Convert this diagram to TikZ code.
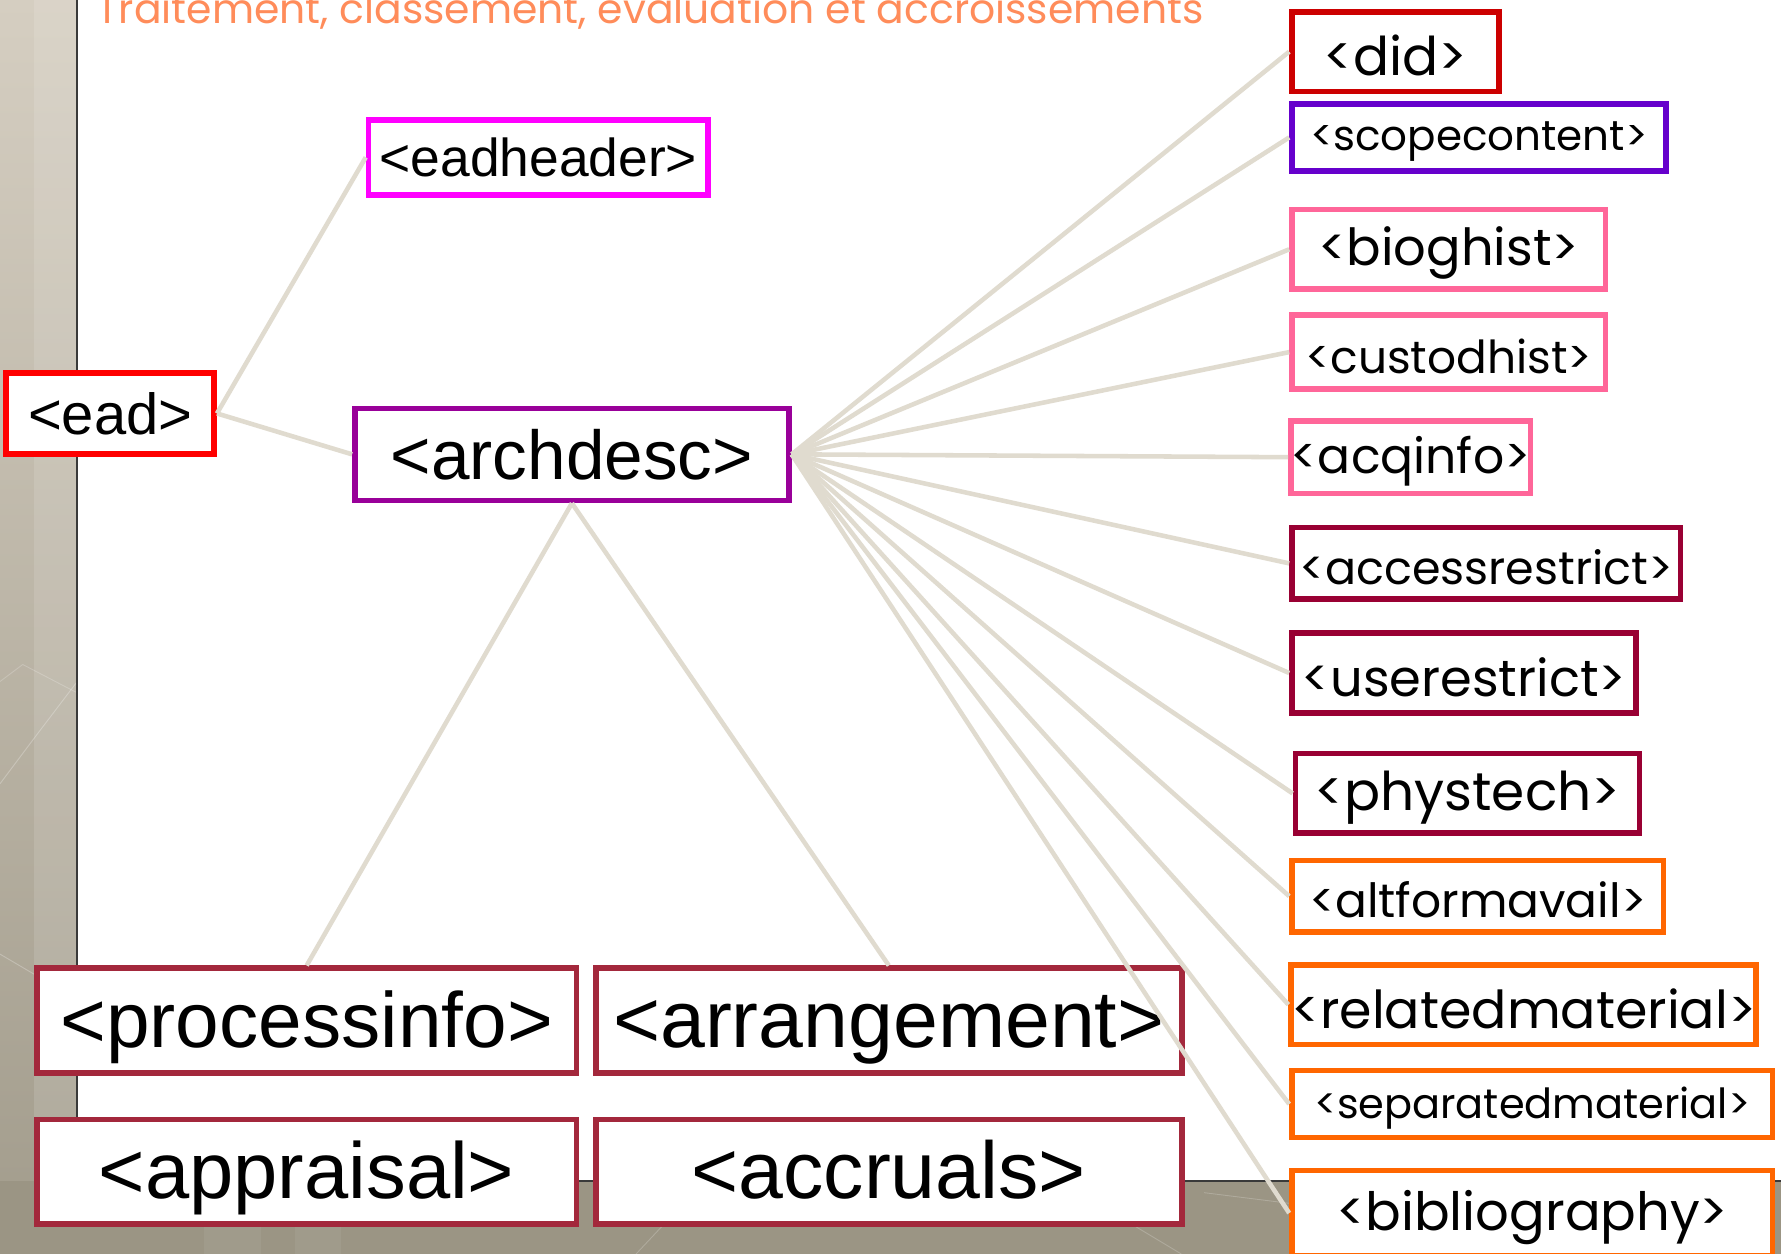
\documentclass[tikz,border=0pt]{standalone}
\usepackage{fontspec}
\setmainfont{Liberation Sans}
\newfontfamily\gothic{Poppins}
\newcommand\dropby[1]{\raisebox{-3.5pt}[\height][\depth]{#1}}
\definecolor{cRed}{HTML}{FF0000}
\definecolor{cMagenta}{HTML}{FF00FF}
\definecolor{cPurple}{HTML}{990099}
\definecolor{cWine}{HTML}{A3283C}
\definecolor{cDid}{HTML}{CC0000}
\definecolor{cViolet}{HTML}{6600CC}
\definecolor{cPink}{HTML}{FF6699}
\definecolor{cMaroon}{HTML}{990033}
\definecolor{cOrange}{HTML}{FF6600}
\definecolor{linkc}{HTML}{E0DBCF}
\definecolor{titlec}{HTML}{FF8C5A}
\definecolor{stripTop}{HTML}{D5CEC1}
\definecolor{stripBot}{HTML}{A29C8C}
\definecolor{bandc}{HTML}{9B9584}
\definecolor{edgec}{HTML}{3A3A3A}
\tikzset{
  tagbox/.style={draw=#1, line width=5pt, fill=white, inner sep=0pt, align=center, text=black},
  link/.style={draw=linkc, line width=4pt},
  fs/.style={font=\fontsize{#1}{#1}\selectfont},
  gfs/.style={font=\gothic\fontsize{#1}{#1}\selectfont},
  lowtext/.style={text height=60pt, text depth=12pt},
}
\begin{document}
\begin{tikzpicture}[x=1pt,y=-1pt]
\useasboundingbox (0,0) rectangle (1568,1104);
\clip (0,0) rectangle (1568,1104);
% background
\fill[white] (0,0) rectangle (1568,1104);
\shade[top color=stripTop, bottom color=stripBot] (0,0) rectangle (68,1104);
\fill[white, opacity=0.12] (30,0) rectangle (68,1104);
\fill[bandc] (0,1040) rectangle (1568,1104);
\fill[white, opacity=0.06] (180,1040) rectangle (230,1104);
\fill[white, opacity=0.06] (260,1040) rectangle (300,1104);
\draw[white, opacity=0.25, line width=0.8pt] (0,690) -- (30,650) -- (68,600);
\draw[white, opacity=0.25, line width=0.8pt] (0,840) -- (68,880);
\draw[white, opacity=0.2, line width=0.8pt] (0,600) -- (20,585) -- (68,610);
\draw[white, opacity=0.2, line width=0.8pt] (1060,1050) -- (1220,1070);
\draw[white, opacity=0.2, line width=0.8pt] (560,1104) -- (620,1040);
\draw[white, opacity=0.2, line width=0.8pt] (1000,1080) -- (1040,1104);
\draw[edgec, line width=1.5pt] (68,0) -- (68,1040) -- (1568,1040);
% title
\node[anchor=base west, inner sep=0pt, text=titlec, gfs=36] (title) at (85,21) {Traitement, classement, évaluation et accroissements};
% left nodes
\node[tagbox=cRed, minimum width=183pt, minimum height=71pt, fs=51] (ead) at (97,364) {<ead>};
\node[tagbox=cMagenta, minimum width=299pt, minimum height=66pt, fs=47] (eadheader) at (474,138.5) {<eadheader>};
\node[tagbox=cPurple, minimum width=382pt, minimum height=81pt, fs=61] (archdesc) at (503.5,400) {<archdesc>};
\node[tagbox=cWine, minimum width=475pt, minimum height=92pt, fs=69, lowtext] (processinfo) at (270,898.5) {<processinfo>};
\node[tagbox=cWine, minimum width=516pt, minimum height=92pt, fs=71, lowtext] (arrangement) at (782.5,898.5) {<arrangement>};
\node[tagbox=cWine, minimum width=475pt, minimum height=92pt, fs=70, lowtext] (appraisal) at (270,1031.5) {<appraisal>};
\node[tagbox=cWine, minimum width=516pt, minimum height=92pt, fs=71, lowtext] (accruals) at (782.5,1031.5) {<accruals>};
% right column
\node[tagbox=cDid, minimum width=182pt, minimum height=70pt, gfs=47] (did) at (1228.5,45.5) {\dropby{<did>}};
\node[tagbox=cViolet, minimum width=329pt, minimum height=59pt, gfs=37] (scopecontent) at (1302,121) {\dropby{<scopecontent>}};
\node[tagbox=cPink, minimum width=276pt, minimum height=70pt, gfs=45] (bioghist) at (1275.5,219.5) {\dropby{<bioghist>}};
\node[tagbox=cPink, minimum width=276pt, minimum height=65pt, gfs=40] (custodhist) at (1275.5,310) {\dropby{<custodhist>}};
\node[tagbox=cPink, minimum width=209pt, minimum height=64pt, gfs=43] (acqinfo) at (1242,402.5) {\dropby{<acqinfo>}};
\node[tagbox=cMaroon, minimum width=342pt, minimum height=63pt, gfs=40.5] (accessrestrict) at (1308.5,496) {\dropby{<accessrestrict>}};
\node[tagbox=cMaroon, minimum width=303pt, minimum height=70pt, gfs=45] (userestrict) at (1289,592.5) {\dropby{<userestrict>}};
\node[tagbox=cMaroon, minimum width=303pt, minimum height=70pt, gfs=47] (phystech) at (1292,698.5) {\dropby{<phystech>}};
\node[tagbox=cOrange, minimum width=327pt, minimum height=63pt, gfs=41.5] (altformavail) at (1301,789) {\dropby{<altformavail>}};
\node[tagbox=cOrange, minimum width=408pt, minimum height=70pt, gfs=46] (relatedmaterial) at (1341.5,884.5) {\dropby{<relatedmaterial>}};
\node[tagbox=cOrange, minimum width=423pt, minimum height=59pt, gfs=36.5] (separatedmaterial) at (1349,972) {\dropby{<separatedmaterial>}};
\node[tagbox=cOrange, minimum width=423pt, minimum height=75pt, gfs=46.5] (bibliography) at (1349,1068) {\dropby{<bibliography>}};
% connectors
\draw[link] (ead.east) -- (eadheader.west);
\draw[link] (ead.east) -- (archdesc.west);
\draw[link] (archdesc.south) -- (processinfo.north);
\draw[link] (archdesc.south) -- (arrangement.north);
\foreach \n in {did,scopecontent,bioghist,custodhist,acqinfo,accessrestrict,userestrict,phystech,altformavail,relatedmaterial,separatedmaterial,bibliography}
  \draw[link] (archdesc.east) -- (\n.west);
\end{tikzpicture}
\end{document}
